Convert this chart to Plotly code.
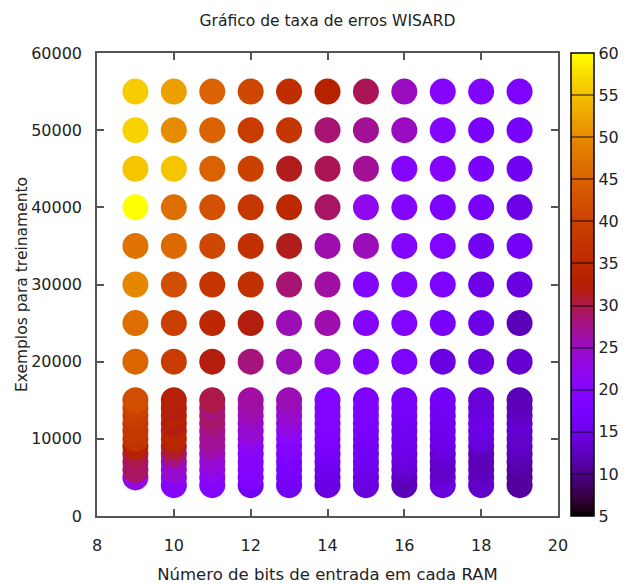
import math
import plotly.graph_objects as go

# ---- data ----
bits = [9, 10, 11, 12, 13, 14, 15, 16, 17, 18, 19]

# upper (sparse) grid: rows of training examples
exemplos_grade = [20000, 25000, 30000, 35000, 40000, 45000, 50000, 55000]
taxa_20000 = [45.5, 39, 32, 28, 25.5, 23.5, 19, 18.5, 14.5, 14, 13.5]
taxa_25000 = [46.5, 39.5, 35, 32, 25.5, 26, 20, 19, 17, 15, 12]
taxa_30000 = [49.5, 42, 37.5, 36.5, 28.5, 26.5, 19.5, 19, 18.5, 15, 14.5]
taxa_35000 = [47, 46, 41, 36.5, 31.5, 26, 25.5, 19.5, 19, 16, 16.5]
taxa_40000 = [60, 46.5, 42.5, 38, 35, 29, 22, 19.5, 18.5, 17.5, 15]
taxa_45000 = [55.5, 55.5, 45, 40, 31.5, 29.5, 27, 19.5, 19.5, 17.5, 16]
taxa_50000 = [56.5, 50, 45, 39, 37.5, 28.5, 27, 25, 19.5, 17.5, 17]
taxa_55000 = [56, 52, 45, 41, 36, 33, 29.5, 25, 20, 19, 18.5]
taxa_grade = [taxa_20000, taxa_25000, taxa_30000, taxa_35000,
              taxa_40000, taxa_45000, taxa_50000, taxa_55000]

# lower (dense) region: 4000..15000 every 1000, one list per number of bits
exemplos_denso = [4000, 5000, 6000, 7000, 8000, 9000, 10000, 11000, 12000, 13000, 14000, 15000]
taxa_bits9 = [None, 23, 29, 29, 30, 33, 37, 38, 38, 39, 40, 42]
taxa_bits10 = [20, 21, 24, 24.5, 28, 31, 34, 34, 32, 33, 32, 32.5]
taxa_bits11 = [19.5, 20, 22, 23.5, 24, 26, 27, 27, 28, 29, 28, 30]
taxa_bits12 = [16, 19, 19, 20, 20, 20.5, 22, 24, 24, 25, 26, 26.5]
taxa_bits13 = [16, 16.5, 17, 17.5, 18.5, 19.5, 20, 21, 23, 24, 24.5, 25.5]
taxa_bits14 = [14.5, 14.5, 15, 16, 16.5, 17, 18, 18.5, 19, 19, 19, 19]
taxa_bits15 = [14, 14.5, 15, 15.5, 16, 16, 16.5, 17, 17.5, 18, 18, 18.5]
taxa_bits16 = [12, 12, 13, 14, 14.5, 15, 15.5, 16, 16, 16.5, 17, 17]
taxa_bits17 = [14, 14, 13, 13, 13.5, 14.5, 15, 15.5, 15.5, 16, 16, 16.5]
taxa_bits18 = [13, 13, 12.5, 12, 12, 12.5, 14, 14.5, 15, 15, 14.5, 14]
taxa_bits19 = [11, 11, 11, 11.5, 12, 12.5, 13, 13, 13.5, 13, 12.5, 12]
taxa_denso = [taxa_bits9, taxa_bits10, taxa_bits11, taxa_bits12, taxa_bits13,
              taxa_bits14, taxa_bits15, taxa_bits16, taxa_bits17, taxa_bits18, taxa_bits19]

cb_ticks = [5, 10, 15, 20, 25, 30, 35, 40, 45, 50, 55, 60]

# ---- build point lists (ascending y so higher rows draw on top) ----
xs, ys, cs = [], [], []
for j, yv in enumerate(exemplos_denso):
    for i, b in enumerate(bits):
        v = taxa_denso[i][j]
        if v is not None:
            xs.append(b); ys.append(yv); cs.append(v)
for k, yv in enumerate(exemplos_grade):
    for i, b in enumerate(bits):
        xs.append(b); ys.append(yv); cs.append(taxa_grade[k][i])

# gnuplot default palette (rgbformulae 7,5,15)
def gp_color(t):
    r = math.sqrt(t)
    g = t ** 3
    b = max(0.0, math.sin(2 * math.pi * t))
    return "rgb(%d,%d,%d)" % (round(r * 255), round(g * 255), round(b * 255))

n = 64
colorscale = [[i / (n - 1), gp_color(i / (n - 1))] for i in range(n)]

font_fam = "DejaVu Sans"
txt = "#222222"
tick_size = 16

fig = go.Figure()
fig.add_trace(go.Scatter(
    x=xs, y=ys, mode="markers",
    marker=dict(
        size=26, color=cs, colorscale=colorscale, cmin=5, cmax=60,
        line=dict(width=0),
        colorbar=dict(
            x=1.028, xanchor="left", xref="paper",
            y=0, yanchor="bottom", len=1, lenmode="fraction",
            thickness=23, thicknessmode="pixels",
            outlinecolor="#000000", outlinewidth=1.5,
            tickvals=cb_ticks, ticks="inside", ticklen=23,
            tickcolor="rgba(0,0,0,0.45)", tickwidth=1.5,
            ticklabelposition="outside",
            tickfont=dict(family=font_fam, size=tick_size, color=txt),
            ypad=0, xpad=0,
        ),
    ),
    showlegend=False,
    hoverinfo="x+y",
))

axis_common = dict(
    showline=True, mirror="ticks", linecolor="#555555", linewidth=1.5,
    ticks="inside", ticklen=7, tickcolor="#555555", tickwidth=1.5,
    showgrid=False, zeroline=False,
    tickfont=dict(family=font_fam, size=tick_size, color=txt),
)

fig.update_layout(
    width=629, height=584,
    margin=dict(l=97, r=71, t=53, b=68, pad=0, autoexpand=False),
    paper_bgcolor="white", plot_bgcolor="white",
    title=dict(text="Gráfico de taxa de erros WISARD", x=0.5, xanchor="center",
               xref="paper", y=0.965, yanchor="middle",
               font=dict(family=font_fam, size=15.5, color=txt)),
    xaxis=dict(range=[8, 20], dtick=2, tick0=8,
               title=dict(text="Número de bits de entrada em cada RAM",
                          font=dict(family=font_fam, size=16.5, color=txt), standoff=15),
               ticklabelstandoff=14, **axis_common),
    yaxis=dict(range=[0, 60000], dtick=10000, tick0=0, tickformat="d",
               title=dict(text="Exemplos para treinamento",
                          font=dict(family=font_fam, size=15.5, color=txt), standoff=0),
               ticklabelstandoff=10, **axis_common),
)

fig.write_html("out.html")
